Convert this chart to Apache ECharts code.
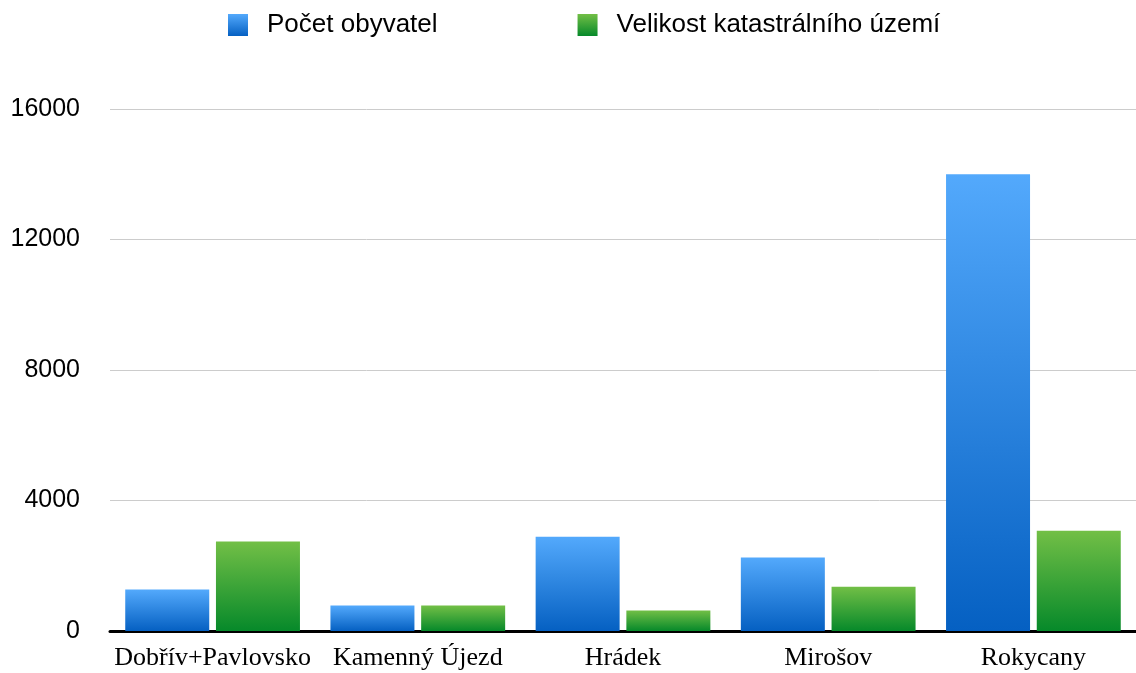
<!DOCTYPE html>
<html>
<head>
<meta charset="utf-8">
<script src="https://cdn.jsdelivr.net/npm/echarts@6/dist/echarts.min.js"></script>
<style>
  html, body { margin: 0; padding: 0; background: #fff; }
  #chart { width: 1136px; height: 673px; }
</style>
</head>
<body>
<div id="chart"></div>
<script>
const categories = ['Dobřív+Pavlovsko', 'Kamenný Újezd', 'Hrádek', 'Mirošov', 'Rokycany']
const obyvatel = [1270, 780, 2890, 2250, 14000]
const uzemi = [2740, 780, 630, 1360, 3070]
const seriesNames = ['Počet obyvatel', 'Velikost katastrálního území']

const blueGrad = new echarts.graphic.LinearGradient(0, 0, 0, 1, [
  { offset: 0, color: '#53a9fc' },
  { offset: 1, color: '#0560c2' }
])
const greenGrad = new echarts.graphic.LinearGradient(0, 0, 0, 1, [
  { offset: 0, color: '#72bf46' },
  { offset: 1, color: '#06892a' }
])

const chart = echarts.init(document.getElementById('chart'), null, { renderer: 'canvas' })

chart.setOption({
  animation: false,
  backgroundColor: '#fff',
  legend: {
    top: 12,
    left: 228,
    padding: 0,
    itemWidth: 20,
    itemHeight: 22,
    itemGap: 140,
    icon: 'rect',
    textStyle: {
      color: '#000',
      fontSize: 26,
      fontFamily: 'Liberation Sans',
      padding: [0, 0, 0, 14]
    },
    data: seriesNames
  },
  grid: {
    left: 110,
    right: 0,
    top: 109,
    bottom: 42
  },
  xAxis: {
    type: 'category',
    data: categories,
    axisLine: { lineStyle: { color: '#000', width: 3 } },
    axisTick: { show: false },
    axisLabel: {
      color: '#000',
      fontSize: 26,
      fontFamily: 'Liberation Serif',
      margin: 14,
      interval: 0
    }
  },
  yAxis: {
    type: 'value',
    min: 0,
    max: 16000,
    interval: 4000,
    axisLine: { show: false },
    axisTick: { show: false },
    axisLabel: {
      color: '#000',
      fontSize: 25,
      fontFamily: 'Liberation Sans',
      margin: 30,
      formatter: v => String(v)
    },
    splitLine: { lineStyle: { color: '#cccccc', width: 1 } }
  },
  series: [
    {
      name: seriesNames[0],
      type: 'bar',
      data: obyvatel,
      barWidth: 84,
      barGap: '8%',
      itemStyle: { color: blueGrad }
    },
    {
      name: seriesNames[1],
      type: 'bar',
      data: uzemi,
      barWidth: 84,
      itemStyle: { color: greenGrad }
    }
  ]
})
</script>
</body>
</html>
